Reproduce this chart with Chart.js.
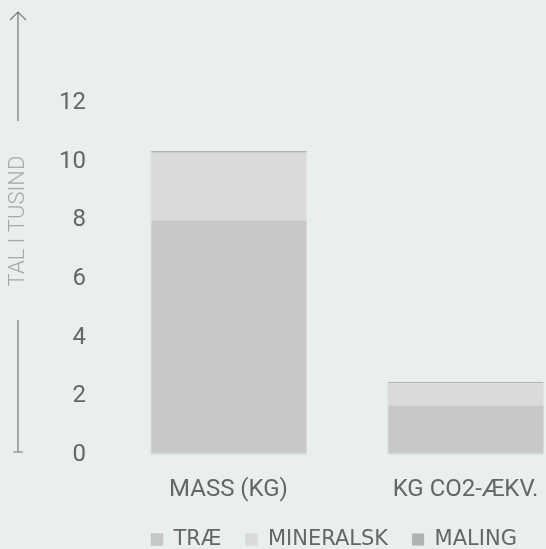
<!DOCTYPE html>
<html>
<head>
<meta charset="utf-8">
<script src="https://cdn.jsdelivr.net/npm/chart.js@4"></script>
<style>
  html, body { margin: 0; padding: 0; background: #e9eeee; overflow: hidden; }
  #wrap { width: 600px; height: 549px; }
</style>
</head>
<body>
<div id="wrap"><canvas id="chart" width="600" height="549"></canvas></div>
<script>
// 카테고리와 시리즈 값 (단위: 천)
const categories = ['MASS (KG)', 'KG CO2-ÆKV.'];
const seriesNames = ['TRÆ', 'MINERALSK', 'MALING'];
const traeValues = [8.0, 1.7];
const mineralskValues = [2.3, 0.75];
const malingValues = [0.07, 0.04];
const yTicks = [0, 2, 4, 6, 8, 10, 12];
const axisTitle = 'TAL I TUSIND';

const colors = ['#c8c8c8', '#dadada', '#b2b2b2'];

// 왼쪽 화살표 축 + 제목 그리기
const arrowAxis = {
  id: 'arrowAxis',
  afterLayout(chart) {
    // 범례를 조금 왼쪽으로
    chart.legend.left -= 13;
    chart.legend.right -= 13;
  },
  afterDraw(chart) {
    const ctx = chart.ctx;
    const x = 18;
    ctx.save();
    ctx.strokeStyle = '#7a7a7a';
    ctx.lineWidth = 1.2;
    ctx.beginPath();
    ctx.moveTo(x, 12);
    ctx.lineTo(x, 121);
    ctx.moveTo(x - 8, 20);
    ctx.lineTo(x, 12);
    ctx.lineTo(x + 8, 20);
    ctx.moveTo(x, 320);
    ctx.lineTo(x, 452);
    ctx.moveTo(x - 5, 452);
    ctx.lineTo(x + 5, 452);
    ctx.stroke();

    ctx.translate(x, 221);
    ctx.rotate(-Math.PI / 2);
    ctx.fillStyle = '#a8a8a8';
    ctx.font = '300 22px Roboto';
    ctx.textAlign = 'center';
    ctx.textBaseline = 'middle';
    ctx.fillText(axisTitle, 0, 0);
    ctx.restore();
  }
};

const datasets = [traeValues, mineralskValues, malingValues].map((vals, i) => ({
  label: seriesNames[i],
  data: vals,
  backgroundColor: colors[i],
  borderColor: 'rgba(0,0,0,0.07)',
  borderWidth: { left: 1, right: 0, top: 0, bottom: i === 0 ? 2 : 0 },
  borderSkipped: false,
  barPercentage: 0.66,
  categoryPercentage: 1
}));

new Chart(document.getElementById('chart'), {
  type: 'bar',
  data: { labels: categories, datasets },
  plugins: [arrowAxis],
  options: {
    responsive: false,
    animation: false,
    layout: { padding: { top: 103, right: 16, bottom: -11, left: 0 } },
    plugins: {
      legend: {
        position: 'bottom',
        fullSize: false,
        labels: {
          color: '#666',
          font: { family: 'DejaVu Sans', size: 21 },
          boxWidth: 12,
          boxHeight: 12,
          padding: 24,
          useBorderRadius: false
        }
      },
      tooltip: { enabled: false }
    },
    scales: {
      x: {
        stacked: true,
        clip: false,
        grid: { display: false, drawTicks: false },
        border: { display: false },
        afterFit(scale) { scale.height = 50; },
        ticks: { color: '#666', font: { family: 'Roboto', size: 24 }, padding: 21 }
      },
      y: {
        stacked: true,
        min: 0,
        max: 12,
        grid: { display: false, drawTicks: false },
        border: { display: false },
        afterFit(scale) { scale.width = 110; },
        afterBuildTicks(scale) { scale.ticks = yTicks.map(v => ({ value: v })); },
        ticks: { color: '#666', font: { family: 'Roboto', size: 24 }, padding: 24 }
      }
    }
  }
});
</script>
</body>
</html>
